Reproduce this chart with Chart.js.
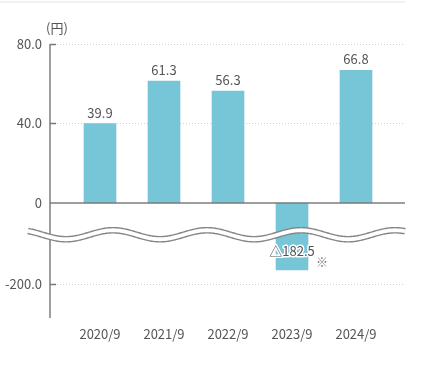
<!DOCTYPE html>
<html><head><meta charset="utf-8">
<script src="https://cdn.jsdelivr.net/npm/chart.js@4/dist/chart.umd.min.js"></script>
<style>html,body{margin:0;padding:0;background:#fff;}#wrap{width:440px;height:371px;}</style>
</head><body><div id="wrap"><canvas id="c" width="440" height="371"></canvas></div>
<script>
const categories = ['2020/9', '2021/9', '2022/9', '2023/9', '2024/9'];
const values = [39.9, 61.3, 56.3, -182.5, 66.8];
const valueLabels = ['39.9', '61.3', '56.3', '△182.5', '66.8'];
const yTickValues = [80, 40, 0, -200];
const yTickLabels = ['80.0', '40.0', '0', '-200.0'];
const unitLabel = '(円)';
const noteMark = '※';

// broken-axis transform: below the break the scale is compressed and shifted
const NEG_REF = -200, NEG_REF_AXIS = -40.75, NEG_SCALE = 0.4;
function toAxis(v) { return v >= 0 ? v : NEG_REF_AXIS + (v - NEG_REF) * NEG_SCALE; }

const FONT = '"Noto Sans CJK JP", "Noto Sans", sans-serif';
const TXT = '#555';
const BAR = '#77C6D8';

const deco = {
  id: 'deco',
  beforeDatasetsDraw(chart) {
    const ctx = chart.ctx, y = chart.scales.y, a = chart.chartArea;
    ctx.save();
    ctx.fillStyle = '#f1f1f1';
    ctx.fillRect(0, 1, a.right, 2);
    yTickValues.forEach(v => {
      const py = Math.round(y.getPixelForValue(toAxis(v))) + 0.5;
      if (v === 0) return;
      ctx.strokeStyle = '#cfcfcf'; ctx.lineWidth = 1; ctx.setLineDash([1, 2]);
      ctx.beginPath(); ctx.moveTo(a.left + 7, py); ctx.lineTo(a.right, py); ctx.stroke();
      ctx.setLineDash([]);
      ctx.strokeStyle = '#777'; ctx.lineWidth = 1.5;
      ctx.beginPath(); ctx.moveTo(a.left, py); ctx.lineTo(a.left + 6, py); ctx.stroke();
    });
    ctx.restore();
  },
  afterDatasetsDraw(chart) {
    const ctx = chart.ctx, y = chart.scales.y, a = chart.chartArea;
    ctx.save();
    const y0 = y.getPixelForValue(0);
    ctx.strokeStyle = '#7d7d7d'; ctx.lineWidth = 1.5;
    ctx.beginPath(); ctx.moveTo(a.left, y0); ctx.lineTo(a.right, y0); ctx.stroke();
    ctx.beginPath(); ctx.moveTo(a.left, a.top); ctx.lineTo(a.left, a.bottom); ctx.stroke();
    // wave break
    const yc = y.getPixelForValue(-16);
    const x0 = a.left - 22;
    const path = () => {
      ctx.beginPath();
      for (let px = x0; px <= a.right; px += 1) {
        const py = yc - 4.5 * Math.cos(2 * Math.PI * (px - 113) / 94);
        if (px === x0) ctx.moveTo(px, py); else ctx.lineTo(px, py);
      }
    };
    path(); ctx.strokeStyle = '#858585'; ctx.lineWidth = 6.6; ctx.stroke();
    path(); ctx.strokeStyle = '#fff'; ctx.lineWidth = 3.8; ctx.stroke();
    // value labels
    ctx.font = '13px ' + FONT; ctx.textAlign = 'center'; ctx.textBaseline = 'middle';
    const meta = chart.getDatasetMeta(0);
    meta.data.forEach((bar, i) => {
      if (values[i] >= 0) {
        ctx.fillStyle = TXT;
        ctx.fillText(valueLabels[i], bar.x, bar.y - 11);
      } else {
        const ly = bar.y - 19;
        ctx.lineWidth = 3; ctx.strokeStyle = '#fff'; ctx.lineJoin = 'round';
        ctx.strokeText(valueLabels[i], bar.x, ly);
        ctx.fillStyle = TXT; ctx.fillText(valueLabels[i], bar.x, ly);
        ctx.font = '12px ' + FONT; ctx.fillStyle = '#777';
        ctx.fillText(noteMark, bar.x + 30, ly + 11);
        ctx.font = '13px ' + FONT;
      }
    });
    ctx.fillStyle = TXT; ctx.font = '13px ' + FONT;
    ctx.fillText(unitLabel, a.left + 7, a.top - 16);
    ctx.restore();
  }
};

new Chart(document.getElementById('c'), {
  type: 'bar',
  data: {
    datasets: [{
      data: values.map((v, i) => ({ x: i, y: toAxis(v) })),
      backgroundColor: BAR,
      barThickness: 32,
      borderWidth: 0
    }]
  },
  options: {
    responsive: false, animation: false, devicePixelRatio: 1,
    layout: { padding: { top: 44, right: 35, left: 0, bottom: 0 } },
    plugins: { legend: { display: false }, tooltip: { enabled: false } },
    scales: {
      x: {
        type: 'linear', min: -0.78125, max: 4.765625, offset: false,
        afterBuildTicks: s => { s.ticks = categories.map((_, i) => ({ value: i })); },
        afterFit: s => { s.height = 53; },
        grid: { display: false, drawTicks: false }, border: { display: false },
        ticks: { callback: v => categories[v], color: TXT, font: { size: 13, family: FONT }, padding: 8, maxRotation: 0, autoSkip: false }
      },
      y: {
        type: 'linear', min: -57.9, max: 80,
        afterBuildTicks: s => { s.ticks = yTickValues.map(v => ({ value: toAxis(v) })); },
        afterFit: s => { s.width = 50; },
        grid: { display: false, drawTicks: false }, border: { display: false },
        ticks: { callback: (v, i) => yTickLabels[i], color: TXT, font: { size: 13, family: FONT }, padding: 8 }
      }
    }
  },
  plugins: [deco]
});
</script></body></html>
